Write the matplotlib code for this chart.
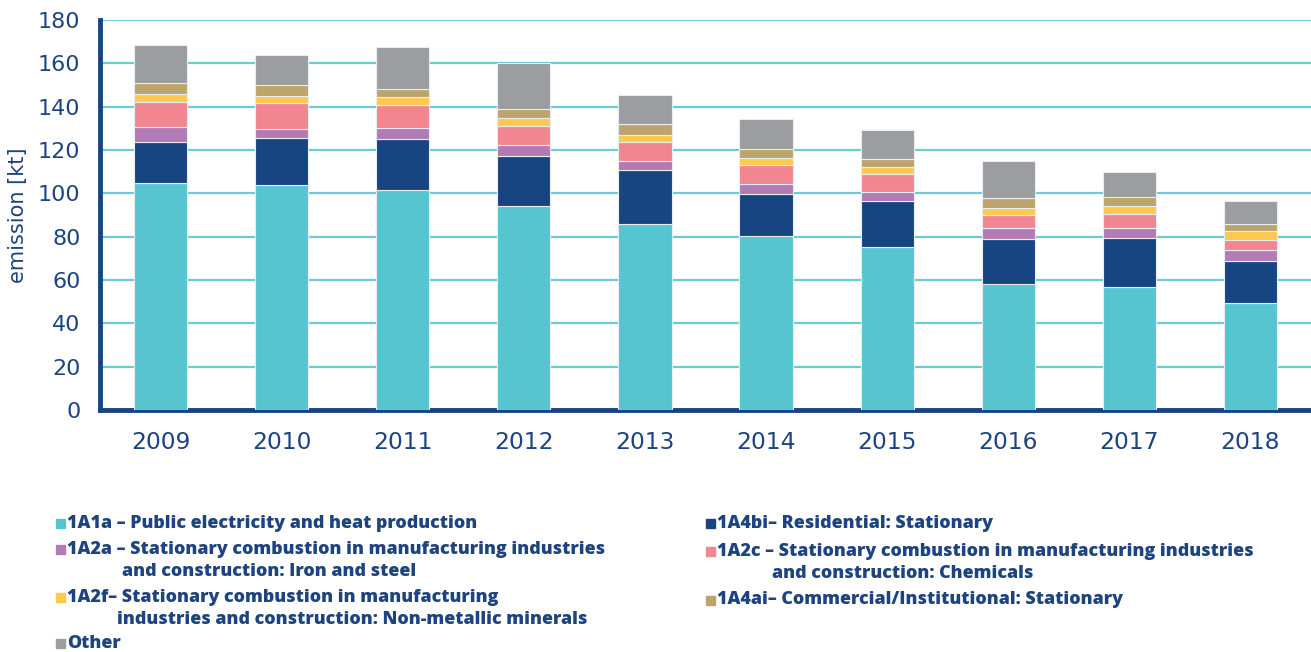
import matplotlib
matplotlib.use("Agg")
import matplotlib.pyplot as plt
from matplotlib.patches import Rectangle
import numpy as np

years = ["2009", "2010", "2011", "2012", "2013", "2014", "2015", "2016", "2017", "2018"]

s_1A1a = [104.6, 103.7, 101.5, 94.2, 85.8, 80.3, 75.1, 58.2, 56.6, 49.4]
s_1A4bi = [18.9, 22.0, 23.7, 23.0, 25.0, 19.4, 21.5, 20.9, 22.6, 19.5]
s_1A2a = [7.0, 4.1, 5.1, 5.0, 4.3, 4.8, 4.2, 5.0, 4.9, 5.1]
s_1A2c = [11.8, 12.0, 10.5, 9.0, 8.6, 8.6, 8.0, 6.0, 6.5, 4.6]
s_1A2f = [3.5, 3.1, 3.7, 3.6, 3.4, 3.2, 3.5, 3.3, 3.7, 4.2]
s_1A4ai = [5.0, 4.9, 3.5, 4.3, 5.1, 4.0, 3.7, 4.3, 3.9, 2.9]
s_other = [17.8, 13.9, 19.4, 21.1, 13.0, 14.0, 13.2, 17.2, 11.5, 10.6]

series = [s_1A1a, s_1A4bi, s_1A2a, s_1A2c, s_1A2f, s_1A4ai, s_other]
colors = ["#56C5D0", "#174582", "#B27BB4", "#F28690", "#FEC94F", "#BCA46C", "#9C9DA1"]

yticks = [0, 20, 40, 60, 80, 100, 120, 140, 160, 180]
ylabel = "emission [kt]"

legend_entries = [
    # (series index, first line, continuation line)
    (0, "1A1a – Public electricity and heat production", None),
    (1, "1A4bi– Residential: Stationary", None),
    (2, "1A2a – Stationary combustion in manufacturing industries", "and construction: Iron and steel"),
    (3, "1A2c – Stationary combustion in manufacturing industries", "and construction: Chemicals"),
    (4, "1A2f– Stationary combustion in manufacturing", "industries and construction: Non-metallic minerals"),
    (5, "1A4ai– Commercial/Institutional: Stationary", None),
    (6, "Other", None),
]

TXT = "#1D4480"
W, H = 1311, 652
fig = plt.figure(figsize=(W / 100, H / 100), dpi=100)
ax = fig.add_axes([100 / W, 1 - 410 / H, (W - 100) / W, 390 / H])

x = np.arange(len(years))
bottom = np.zeros(len(years))
for vals, c in zip(series, colors):
    ax.bar(x, vals, bottom=bottom, width=0.44, color=c, edgecolor="#E8EDF2",
           linewidth=0.8, zorder=3)
    bottom += np.array(vals)

ax.set_xlim(-0.5, len(years) - 0.5)
ax.set_ylim(0, 180)
ax.set_yticks(yticks)
ax.set_yticklabels([str(t) for t in yticks])
ax.set_xticks(x)
ax.set_xticklabels(years)
ax.yaxis.grid(True, color="#6CCBD5", linewidth=1.6, zorder=0)
ax.set_axisbelow(True)
for s in ["top", "right"]:
    ax.spines[s].set_visible(False)
for s in ["left", "bottom"]:
    ax.spines[s].set_color("#174582")
    ax.spines[s].set_linewidth(3.5)
ax.tick_params(axis="both", length=0, labelcolor=TXT, labelsize=16)
ax.tick_params(axis="x", labelsize=16.8)
ax.tick_params(axis="y", pad=14)
ax.tick_params(axis="x", pad=15)
for lab in ax.get_xticklabels() + ax.get_yticklabels():
    lab.set_family("DejaVu Sans")
ax.set_ylabel(ylabel, color=TXT, fontsize=15, family="DejaVu Sans")
ax.yaxis.set_label_coords(-72 / (W - 100), 0.5)

# legend drawn manually (hanging indents)
layout = {
    0: (56, 67, None, 523),
    1: (706, 717, None, 523),
    2: (56, 67, 122, 549),
    3: (706, 717, 772, 551),
    4: (56, 67, 117, 597),
    5: (706, 717, None, 600),
    6: (56, 67, None, 643),
}
LF = dict(color=TXT, fontsize=12.9, family="Open Sans", fontweight="heavy",
          va="center", ha="left")
for idx, first, cont in legend_entries:
    sx, tx, ix, ty = layout[idx]
    fig.patches.append(Rectangle((sx / W, 1 - (ty + 5) / H), 9 / W, 9 / H,
                                 transform=fig.transFigure, color=colors[idx]))
    fig.text(tx / W, 1 - ty / H, first, **LF)
    if cont:
        fig.text(ix / W, 1 - (ty + 22) / H, cont, **LF)

fig.savefig("out.png", dpi=100)
